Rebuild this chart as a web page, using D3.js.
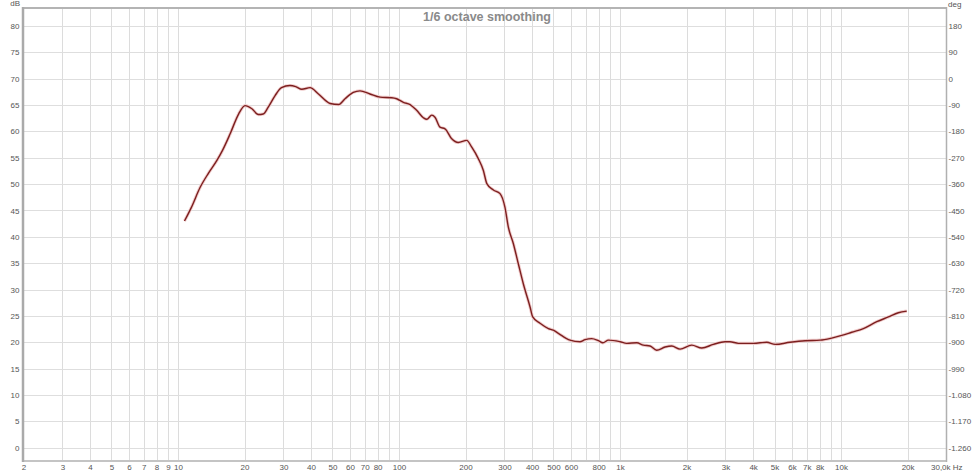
<!DOCTYPE html>
<html>
<head>
<meta charset="utf-8">
<script src="https://cdn.jsdelivr.net/npm/d3@7"></script>
<style>
html,body{margin:0;padding:0;background:#fff;}
svg{display:block;}
</style>
</head>
<body>
<svg id="chart" width="975" height="473"></svg>
<script>
// ---- data ----
const freqs = [10.7, 11.5, 12.6, 13.7, 15.0, 15.9, 17.2, 18.8, 20.1, 21.6, 23.1, 24.3, 25.6, 27.5, 29.4, 32.1, 34.1, 36.3, 39.6, 43.2,
  48.8, 53.3, 57.0, 62.1, 66.6, 73.9, 82.1, 92.7, 97.6, 104.7, 112.2, 120.2, 128.9, 133.5, 140.7, 145.5, 153.3, 161.5, 173.2, 185.4,
  202.5, 213.4, 228.7, 240.8, 249.7, 267.3, 286.4, 301.6, 312.2, 329.2, 346.6, 365.1, 391.7, 402.8, 434.6, 474, 499, 526, 594, 659,
  695, 745, 798, 836, 886, 1000, 1072, 1191, 1275, 1367, 1465, 1599, 1714, 1869, 2111, 2344, 2645, 2986, 3144, 3432,
  4012, 4613, 5030, 5879, 6873, 8035, 9076, 10070, 11180, 12620, 14510, 16370, 18160, 19830];
const splDb = [43.0, 45.6, 49.4, 52.0, 54.5, 56.4, 59.5, 63.3, 64.9, 64.3, 63.2, 63.3, 64.6, 66.8, 68.3, 68.7, 68.5, 68.0, 68.3, 67.1,
  65.3, 65.1, 66.2, 67.4, 67.7, 67.1, 66.5, 66.4, 66.2, 65.5, 65.1, 64.0, 62.6, 62.3, 63.1, 62.7, 60.8, 60.5, 58.6, 57.9,
  58.3, 57.0, 54.8, 52.6, 50.1, 48.9, 48.2, 45.6, 41.9, 38.7, 34.9, 31.1, 26.7, 24.8, 23.6, 22.6, 22.3, 21.7, 20.4, 20.1,
  20.5, 20.7, 20.3, 19.9, 20.4, 20.1, 19.8, 19.9, 19.45, 19.3, 18.5, 19.1, 19.3, 18.7, 19.45, 18.9, 19.6, 20.1, 20.1, 19.8,
  19.8, 20.0, 19.6, 20.0, 20.3, 20.4, 20.8, 21.3, 21.9, 22.6, 23.9, 24.8, 25.6, 25.9];

const xTickValues = [2,3,4,5,6,7,8,9,10,20,30,40,50,60,70,80,100,200,300,400,500,600,800,1000,2000,3000,4000,5000,6000,7000,8000,10000,20000,30000];
const xTickLabels = ["2","3","4","5","6","7","8","9","10","20","30","40","50","60","70","80","100","200","300","400","500","600","800","1k","2k","3k","4k","5k","6k","7k","8k","10k","20k","30,0k Hz"];
const dbTicks = [0,5,10,15,20,25,30,35,40,45,50,55,60,65,70,75,80];
const degTicks = [180,90,0,-90,-180,-270,-360,-450,-540,-630,-720,-810,-900,-990,-1080,-1170,-1260];
const title = "1/6 octave smoothing";

// ---- layout ----
const L = 23.5, R = 946.5, T = 8, B = 461;
const x = d3.scaleLog().domain([2, 30000]).range([L, R]);
const y = d3.scaleLinear().domain([0, 80]).range([447.7, 26]);
const yDeg = d3.scaleLinear().domain([-1260, 180]).range([447.7, 26]);

const svg = d3.select("#chart");
const font = "'Liberation Sans', Arial, sans-serif";

// grid
const gridFreqs = [];
for (let k = 0; k <= 4; k++) for (let m = 1; m <= 9; m++) {
  const f = m * Math.pow(10, k);
  if (f > 2 && f < 30000) gridFreqs.push(f);
}
svg.append("g").selectAll("line").data(gridFreqs).join("line")
  .attr("x1", d => Math.round(x(d)) + 0.5).attr("x2", d => Math.round(x(d)) + 0.5)
  .attr("y1", T).attr("y2", B)
  .attr("stroke", "#dcdcdc").attr("stroke-width", 1);
svg.append("g").selectAll("line").data(dbTicks).join("line")
  .attr("x1", L).attr("x2", R)
  .attr("y1", d => Math.round(y(d)) + 0.5).attr("y2", d => Math.round(y(d)) + 0.5)
  .attr("stroke", "#dedede").attr("stroke-width", 1);

// frame
svg.append("line").attr("x1", L - 1).attr("x2", R).attr("y1", T).attr("y2", T).attr("stroke", "#b4b4b4").attr("stroke-width", 2);
svg.append("line").attr("x1", L - 1).attr("x2", R).attr("y1", B).attr("y2", B).attr("stroke", "#c4c4c4").attr("stroke-width", 2);
svg.append("line").attr("x1", L - 0.5).attr("x2", L - 0.5).attr("y1", T - 1).attr("y2", B + 1).attr("stroke", "#aaaaaa").attr("stroke-width", 2.5);
svg.append("line").attr("x1", R).attr("x2", R).attr("y1", T - 1).attr("y2", B + 1).attr("stroke", "#b0b0b0").attr("stroke-width", 1.5);

// axes (labels only)
const locale = d3.formatLocale({decimal: ",", thousands: ".", grouping: [3], currency: ["", ""], minus: "-"});
const fmtDeg = locale.format(",d");

const gx = svg.append("g").attr("transform", `translate(0,${B})`)
  .call(d3.axisBottom(x).tickValues(xTickValues).tickSize(0).tickPadding(3)
    .tickFormat((d, i) => xTickLabels[i]));
gx.select(".domain").remove();
gx.selectAll("text").attr("font-family", font).attr("font-size", 8).attr("fill", "#555");
gx.selectAll(".tick").filter(d => d === 30000).select("text").attr("text-anchor", "start").attr("dx", -16);

const gy = svg.append("g").attr("transform", `translate(${L - 2},0)`)
  .call(d3.axisLeft(y).tickValues(dbTicks).tickSize(0).tickPadding(2));
gy.select(".domain").remove();
gy.selectAll("text").attr("font-family", font).attr("font-size", 8).attr("fill", "#555");

const gr = svg.append("g").attr("transform", `translate(${R},0)`)
  .call(d3.axisRight(yDeg).tickValues(degTicks).tickSize(0).tickPadding(2).tickFormat(fmtDeg));
gr.select(".domain").remove();
gr.selectAll("text").attr("font-family", font).attr("font-size", 8).attr("fill", "#555");

svg.append("text").attr("x", 20).attr("y", 6).attr("text-anchor", "end")
  .attr("font-family", font).attr("font-size", 8).attr("fill", "#555").text("dB");
svg.append("text").attr("x", 948).attr("y", 7)
  .attr("font-family", font).attr("font-size", 8).attr("fill", "#555").text("deg");

svg.append("text").attr("x", 487).attr("y", 20.5).attr("text-anchor", "middle")
  .attr("font-family", font).attr("font-size", 12.5).attr("font-weight", "bold").attr("fill", "#8a8a8a")
  .text(title);

// curve
const pts = freqs.map((f, i) => [f, splDb[i]]);
const line = d3.line().x(d => x(d[0])).y(d => y(d[1])).curve(d3.curveMonotoneX);
svg.append("path").datum(pts).attr("d", line).attr("fill", "none")
  .attr("stroke", "#f0cccc").attr("stroke-width", 3.2).attr("stroke-linejoin", "round");
svg.append("path").datum(pts).attr("d", line).attr("fill", "none")
  .attr("stroke", "#7c1f1f").attr("stroke-width", 1.4).attr("stroke-linejoin", "round");
</script>
</body>
</html>
